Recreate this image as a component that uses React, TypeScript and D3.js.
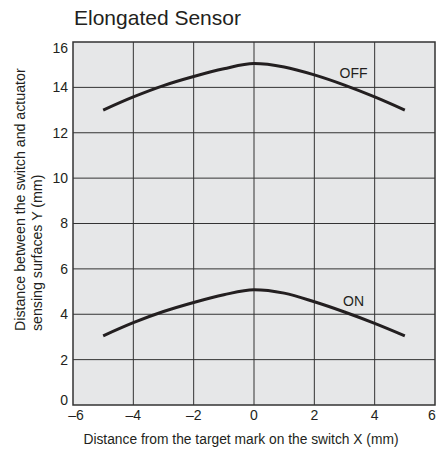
import React from 'react';
import * as d3 from 'd3';

// values
const xValues = [-5, -4, -3, -2, -1, 0, 1, 2, 3, 4, 5];
const offValues = [13.0, 13.58, 14.08, 14.48, 14.82, 15.05, 14.9, 14.55, 14.1, 13.58, 13.0];
const onValues = [3.05, 3.63, 4.12, 4.52, 4.86, 5.08, 4.93, 4.55, 4.1, 3.6, 3.05];
const xTicks = [-6, -4, -2, 0, 2, 4, 6];
const yTicks = [0, 2, 4, 6, 8, 10, 12, 14, 16];
const seriesLabels = [
  { name: 'OFF', x: 3.3, y: 14.43 },
  { name: 'ON', x: 3.3, y: 4.37 },
];

const width = 437;
const height = 449;
const margin = { top: 42, right: 2, bottom: 44, left: 73 };
const font = 'Arial, "Liberation Sans", Helvetica, sans-serif';
const ink = '#231f20';

const App: React.FC = () => {
  const xScale = d3.scaleLinear().domain([-6, 6]).range([margin.left, width - margin.right]);
  const yScale = d3.scaleLinear().domain([0, 16]).range([height - margin.bottom, margin.top]);

  const line = d3
    .line<number>()
    .x((_, i) => xScale(xValues[i]))
    .y((d) => yScale(d))
    .curve(d3.curveMonotoneX);

  const x0 = xScale(-6);
  const x1 = xScale(6);
  const y0 = yScale(0);
  const y1 = yScale(16);

  return (
    <svg
      width={width}
      height={height}
      viewBox={`0 0 ${width} ${height}`}
      style={{ position: 'absolute', left: 0, top: 0, background: '#fff' }}
      fontFamily={font}
    >
      <text x={74} y={25} fontSize={21} fill={ink}>
        Elongated Sensor
      </text>

      {/* plot background */}
      <rect x={x0} y={y1} width={x1 - x0} height={y0 - y1} fill="#e6e7e8" />

      {/* grid */}
      {xTicks.slice(1, -1).map((t) => (
        <line key={`gx${t}`} x1={xScale(t)} x2={xScale(t)} y1={y1} y2={y0} stroke="#333" strokeWidth={1} />
      ))}
      {yTicks.slice(1, -1).map((t) => (
        <line key={`gy${t}`} x1={x0} x2={x1} y1={yScale(t)} y2={yScale(t)} stroke="#333" strokeWidth={1} />
      ))}

      <rect x={x0} y={y1} width={x1 - x0} height={y0 - y1} fill="none" stroke="#333" strokeWidth={1.5} />

      {/* curves */}
      <path d={line(offValues) || ''} fill="none" stroke={ink} strokeWidth={3} />
      <path d={line(onValues) || ''} fill="none" stroke={ink} strokeWidth={3} />

      {seriesLabels.map((s) => (
        <text key={s.name} x={xScale(s.x)} y={yScale(s.y)} fontSize={14} fill={ink} textAnchor="middle">
          {s.name}
        </text>
      ))}

      {/* y tick labels */}
      {yTicks.map((t, i) => (
        <text
          key={`yl${t}`}
          x={x0 - 5}
          y={yScale(t)}
          dy={i === 0 ? 0 : i === yTicks.length - 1 ? '0.75em' : '0.35em'}
          fontSize={14}
          fill={ink}
          textAnchor="end"
        >
          {t}
        </text>
      ))}

      {/* x tick labels */}
      {xTicks.map((t, i) => (
        <text
          key={`xl${t}`}
          x={xScale(t)}
          dx={i === 0 ? 3 : i === xTicks.length - 1 ? -3 : 0}
          y={y0 + 15}
          fontSize={14}
          fill={ink}
          textAnchor="middle"
        >
          {t < 0 ? `\u2013${Math.abs(t)}` : t}
        </text>
      ))}

      <text x={241} y={444} fontSize={13.8} fill={ink} textAnchor="middle">
        Distance from the target mark on the switch X (mm)
      </text>

      <g transform="translate(25,331) rotate(-90)">
        <text x={0} y={0} fontSize={14.2} fill={ink}>
          Distance between the switch and actuator
        </text>
        <text x={0} y={17} fontSize={14.2} fill={ink}>
          sensing surfaces Y (mm)
        </text>
      </g>
    </svg>
  );
};

export default App;
